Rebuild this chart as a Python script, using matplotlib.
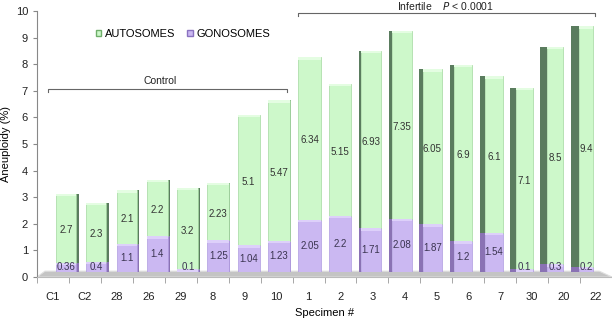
import matplotlib
matplotlib.use("Agg")
import matplotlib.pyplot as plt
import numpy as np
from matplotlib.patches import Polygon, Patch

specimens = ["C1", "C2", "28", "26", "29", "8", "9", "10", "1", "2", "3", "4", "5", "6", "7", "30", "20", "22"]
gonosomes = [0.36, 0.4, 1.1, 1.4, 0.1, 1.25, 1.04, 1.23, 2.05, 2.2, 1.71, 2.08, 1.87, 1.2, 1.54, 0.1, 0.3, 0.2]
autosomes = [2.7, 2.3, 2.1, 2.2, 3.2, 2.23, 5.1, 5.47, 6.34, 5.15, 6.93, 7.35, 6.05, 6.9, 6.1, 7.1, 8.5, 9.4]
yticks = list(range(0, 11))

plt.rcParams['font.family'] = ['Liberation Sans', 'DejaVu Sans']

W, H = 612, 321
fig = plt.figure(figsize=(W / 100, H / 100), dpi=100)
# main (front plane) axes: ticks, labels, floor, brackets, legend
ax = fig.add_axes([37 / W, 1 - 277 / H, 575 / W, 266 / H])
# back plane axes holding the bars (pseudo 3-D perspective)
bx = fig.add_axes([52.4 / W, 1 - 272 / H, 544.7 / W, 256 / H])
bx.patch.set_alpha(0)

n = len(specimens)
x = np.arange(n)

g_face, g_side, g_top = "#cbb8f2", "#8a72b4", "#ddd0fa"
a_face, a_side, a_top = "#cdf8ca", "#5a7c5e", "#e4fde2"

# floor
floor = Polygon([[-0.5, 0], [-0.25, 0.22], [17.1, 0.22], [17.5, 0]], closed=True,
                facecolor="#c4c4c4", edgecolor="#e0e0e0", lw=0.8, zorder=1)
ax.add_patch(floor)

tot = 0.75
mid = 8
for i in range(n):
    if i < mid:
        sw = 0.0125 * (mid - i)
        fl, sl = x[i] - tot / 2, x[i] + tot / 2 - sw
    else:
        sw = 0.029 * (i - mid)
        sl, fl = x[i] - tot / 2, x[i] - tot / 2 + sw
    fw = tot - sw
    g = gonosomes[i]
    a = autosomes[i]
    cap = 0.1
    # side faces
    if sw > 0:
        bx.bar(sl, g, width=sw, bottom=0, align="edge", color=g_side, lw=0, zorder=2)
        bx.bar(sl, a, width=sw, bottom=g, align="edge", color=a_side, lw=0, zorder=2)
    # front faces
    bx.bar(fl, g, width=fw, bottom=0, align="edge", color=g_face, edgecolor="#b09ce0", lw=0.5, zorder=3)
    bx.bar(fl, a, width=fw, bottom=g, align="edge", color=a_face, edgecolor="#a4d8a0", lw=0.5, zorder=3)
    # top bevel highlights
    bx.bar(fl, min(cap, g), width=fw, bottom=g - min(cap, g), align="edge", color=g_top, lw=0, zorder=4)
    bx.bar(fl, cap, width=fw, bottom=g + a - cap, align="edge", color=a_top, lw=0, zorder=4)
    # value labels
    cx = fl + fw / 2
    bx.text(cx, max(g / 2, 0.18), f"{g:g}", ha="center", va="center",
            fontsize=7, color="#3a3450", zorder=5)
    bx.text(cx, g + a / 2 - 0.08, f"{a:g}", ha="center", va="center",
            fontsize=7, color="#333333", zorder=5)

bx.set_xlim(-0.5, 17.5)
bx.set_ylim(0, 10)
bx.axis("off")

ax.set_xlim(-0.5, 17.47)
ax.set_ylim(0, 10)
ax.set_yticks(yticks)
ax.set_xticks(x)
ax.set_xticklabels(specimens)
ax.set_xticks(np.arange(-0.5, n, 1.0), minor=True)
ax.tick_params(axis="x", which="major", length=0, pad=11, labelsize=8, colors="#222222")
ax.tick_params(axis="x", which="minor", length=4, direction="out", color="#999999")
ax.tick_params(axis="y", length=3, direction="out", color="#888888", labelsize=8, labelcolor="#222222")
for s in ["top", "right"]:
    ax.spines[s].set_visible(False)
ax.spines["left"].set_color("#888888")
ax.spines["bottom"].set_color("#bbbbbb")
ax.set_ylabel("Aneuploidy (%)", fontsize=8)
ax.yaxis.set_label_coords(-0.045, 0.5)
ax.set_xlabel("Specimen #", fontsize=8)
ax.xaxis.set_label_coords(0.5, -0.115)

# brackets
def bracket(x0, x1, y, drop):
    ax.plot([x0, x0, x1, x1], [y - drop, y, y, y - drop], color="#666666", lw=0.8,
            clip_on=False, zorder=6)

bracket(-0.16, 7.34, 7.07, 0.12)
ax.text(3.34, 7.37, "Control", ha="center", va="center", fontsize=7.5, color="#222222")
bracket(7.66, 16.97, 9.92, 0.12)
ax.text(12.3, 10.2, "Infertile    $\\it{P}$ < 0.0001", ha="center", va="center", fontsize=7.5,
        color="#222222", clip_on=False)

handles = [Patch(facecolor=a_face, edgecolor="#6fae6a"), Patch(facecolor=g_face, edgecolor="#8a72c0")]
ax.legend(handles, ["AUTOSOMES", "GONOSOMES"], loc="center left", bbox_to_anchor=(0.102, 0.914),
          ncol=2, frameon=False, fontsize=8, handlelength=0.5, handleheight=0.5,
          handletextpad=0.3, columnspacing=1.1, borderpad=0, borderaxespad=0)

fig.savefig("out.png", dpi=100)
